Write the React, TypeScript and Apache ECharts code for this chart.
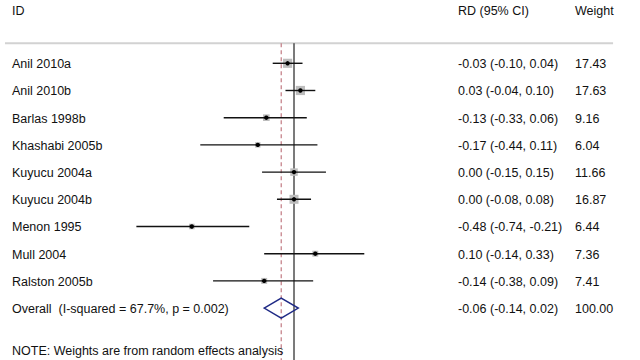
import React, { useEffect, useRef } from "react";
import * as echarts from "echarts";

const studies = [
  "Anil 2010a",
  "Anil 2010b",
  "Barlas 1998b",
  "Khashabi 2005b",
  "Kuyucu 2004a",
  "Kuyucu 2004b",
  "Menon 1995",
  "Mull 2004",
  "Ralston 2005b",
];
const rd = [-0.03, 0.03, -0.13, -0.17, 0.0, 0.0, -0.48, 0.1, -0.14];
const lo = [-0.1, -0.04, -0.33, -0.44, -0.15, -0.08, -0.74, -0.14, -0.38];
const hi = [0.04, 0.1, 0.06, 0.11, 0.15, 0.08, -0.21, 0.33, 0.09];
const weights = [17.43, 17.63, 9.16, 6.04, 11.66, 16.87, 6.44, 7.36, 7.41];

const overallLabel = "Overall  (I-squared = 67.7%, p = 0.002)";
const overall = { rd: -0.06, lo: -0.14, hi: 0.02, weight: 100.0 };
const noteText = "NOTE: Weights are from random effects analysis";
const headers = { id: "ID", rd: "RD (95% CI)", weight: "Weight" };

const FONT = "'Liberation Sans', Arial, Helvetica, sans-serif";
const FS = 12.5;
const X_ID = 12;
const X_RD = 458;
const X_W = 575;

const fmt = (v: number) => v.toFixed(2);

export default function App() {
  const ref = useRef<HTMLDivElement>(null);
  useEffect(() => {
    document.body.style.margin = "0";
    const chart = echarts.init(ref.current!, null, { renderer: "svg" });
    const rowTop = -0.74;
    const rowBottom = 10.92;
    const txt = (x: number, y: number, s: string) => ({
      type: "text",
      x,
      y: y + 1,
      style: {
        text: s,
        fill: "#111",
        font: `${FS}px ${FONT}`,
        textVerticalAlign: "middle",
        verticalAlign: "middle",
      },
    });
    const option: any = {
      animation: false,
      grid: { left: 0, right: 0, top: 0, bottom: 0 },
      xAxis: { type: "value", min: -1.3803, max: 1.6244, show: false },
      yAxis: { type: "value", min: -2.327, max: 10.908, inverse: true, show: false },
      series: [
        {
          type: "line",
          silent: true,
          symbol: "none",
          data: [
            [-1.357, rowTop],
            [1.498, rowTop],
          ],
          lineStyle: { color: "#d2d2d2", width: 2 },
          z: 1,
        },
        {
          type: "line",
          silent: true,
          symbol: "none",
          data: [
            [overall.rd, rowTop],
            [overall.rd, rowBottom],
          ],
          lineStyle: { color: "#c27a82", width: 1.2, type: [4, 3] },
          z: 2,
        },
        {
          type: "line",
          silent: true,
          symbol: "none",
          data: [
            [0, rowTop],
            [0, rowBottom],
          ],
          lineStyle: { color: "#333", width: 1.3 },
          z: 2,
        },
        {
          type: "custom",
          silent: true,
          z: 5,
          data: studies.map((_, i) => [i]),
          renderItem: (params: any, api: any) => {
            const i = api.value(0);
            const y = api.coord([0, i])[1];
            const xl = api.coord([lo[i], i])[0];
            const xh = api.coord([hi[i], i])[0];
            const xc = api.coord([rd[i], i])[0];
            const s = 9.2 * Math.sqrt(weights[i] / 17.63);
            return {
              type: "group",
              children: [
                {
                  type: "rect",
                  shape: { x: xc - s / 2, y: y - s / 2, width: s, height: s },
                  style: { fill: "#bdbdbd" },
                },
                {
                  type: "line",
                  shape: { x1: xl, y1: y, x2: xh, y2: y },
                  style: { stroke: "#111", lineWidth: 1.4 },
                },
                {
                  type: "circle",
                  shape: { cx: xc, cy: y, r: 2.2 },
                  style: { fill: "#000" },
                },
                txt(X_ID, y, studies[i]),
                txt(X_RD, y, `${fmt(rd[i])} (${fmt(lo[i])}, ${fmt(hi[i])})`),
                txt(X_W, y, fmt(weights[i])),
              ],
            };
          },
        },
        {
          type: "custom",
          silent: true,
          z: 5,
          data: [[studies.length]],
          renderItem: (params: any, api: any) => {
            const r = api.value(0);
            const y = api.coord([0, r])[1];
            const xl = api.coord([overall.lo, r])[0];
            const xh = api.coord([overall.hi, r])[0];
            const xc = api.coord([overall.rd, r])[0];
            const yTop = api.coord([0, r - 0.37])[1];
            const yBot = api.coord([0, r + 0.37])[1];
            const yHead = api.coord([0, -1.95])[1];
            const yNote = api.coord([0, r + 1.55])[1];
            return {
              type: "group",
              children: [
                {
                  type: "polygon",
                  shape: {
                    points: [
                      [xl, y],
                      [xc, yTop],
                      [xh, y],
                      [xc, yBot],
                    ],
                  },
                  style: { fill: "none", stroke: "#1f2a86", lineWidth: 1.5 },
                },
                txt(X_ID, y, overallLabel),
                txt(X_RD, y, `${fmt(overall.rd)} (${fmt(overall.lo)}, ${fmt(overall.hi)})`),
                txt(X_W, y, fmt(overall.weight)),
                txt(X_ID, yHead, headers.id),
                txt(X_RD, yHead, headers.rd),
                txt(X_W, yHead, headers.weight),
                txt(X_ID, yNote, noteText),
              ],
            };
          },
        },
      ],
    };
    chart.setOption(option);
    return () => chart.dispose();
  }, []);
  return <div ref={ref} style={{ width: 640, height: 360, background: "#fff" }} />;
}
